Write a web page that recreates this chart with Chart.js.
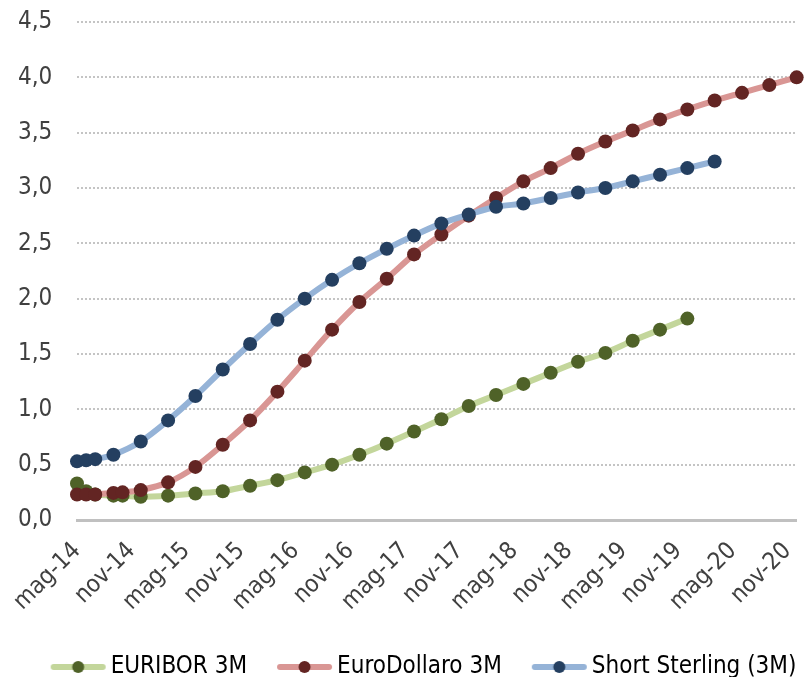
<!DOCTYPE html>
<html>
<head>
<meta charset="utf-8">
<script src="https://cdn.jsdelivr.net/npm/chart.js@4.4.1/dist/chart.umd.min.js"></script>
<style>
    html, body { margin: 0; padding: 0; background: #fff; }
    #wrap { width: 808px; height: 677px; }
</style>
</head>
<body>
<div id="wrap"><canvas id="myChart" width="808" height="677"></canvas></div>
<script>
// month offsets counted from mag-14
const months = [0, 1, 2, 4, 5, 7, 10, 13, 16, 19, 22, 25, 28, 31, 34, 37, 40, 43, 46, 49, 52, 55, 58, 61, 64, 67, 70, 73, 76, 79];

const euribor = [0.33, 0.26, 0.23, 0.22, 0.22, 0.21, 0.22, 0.24, 0.26, 0.31, 0.36, 0.43, 0.50, 0.59, 0.69, 0.80, 0.91, 1.03, 1.13, 1.23, 1.33, 1.43, 1.51, 1.62, 1.72, 1.82, null, null, null, null];
const euroDollaro = [0.23, 0.23, 0.23, 0.245, 0.25, 0.27, 0.34, 0.48, 0.68, 0.90, 1.16, 1.44, 1.72, 1.97, 2.18, 2.40, 2.58, 2.75, 2.91, 3.06, 3.18, 3.31, 3.42, 3.52, 3.62, 3.71, 3.79, 3.86, 3.93, 4.00];
const shortSterling = [0.53, 0.54, 0.55, 0.59, null, 0.71, 0.90, 1.12, 1.36, 1.59, 1.81, 2.00, 2.17, 2.32, 2.45, 2.57, 2.68, 2.76, 2.83, 2.86, 2.91, 2.96, 3.00, 3.06, 3.12, 3.18, 3.24, null, null, null];

const tickMonths = [0, 6, 12, 18, 24, 30, 36, 42, 48, 54, 60, 66, 72, 78];
const tickLabels = ['mag-14', 'nov-14', 'mag-15', 'nov-15', 'mag-16', 'nov-16', 'mag-17', 'nov-17', 'mag-18', 'nov-18', 'mag-19', 'nov-19', 'mag-20', 'nov-20'];

const seriesNames = ['EURIBOR 3M', 'EuroDollaro 3M', 'Short Sterling (3M)'];

const FONT = "'DejaVu Sans Condensed', 'DejaVu Sans', sans-serif";
const TEXT = '#404040';

function toPoints(values) {
    return values.map((v, i) => ({ x: months[i], y: v }));
}

// legend icon: thick light line with a dark dot in the middle
function makeIcon(lineColor, dotColor) {
    let c = document.createElement('canvas');
    c.width = 100;
    c.height = 20;
    let ctx = c.getContext('2d');
    ctx.strokeStyle = lineColor;
    ctx.lineWidth = 6;
    ctx.lineCap = 'round';
    ctx.beginPath();
    ctx.moveTo(41, 10);
    ctx.lineTo(90, 10);
    ctx.stroke();
    ctx.fillStyle = dotColor;
    ctx.beginPath();
    ctx.arc(65.5, 10, 6, 0, Math.PI * 2);
    ctx.fill();
    return c;
}

function makeSet(label, values, lineColor, dotColor, order) {
    return {
        label: label,
        data: toPoints(values),
        borderColor: lineColor,
        backgroundColor: dotColor,
        borderWidth: 6,
        borderCapStyle: 'round',
        borderJoinStyle: 'round',
        tension: 0.3,
        pointRadius: 7,
        pointHoverRadius: 7,
        pointBorderWidth: 0,
        pointBackgroundColor: dotColor,
        spanGaps: true,
        clip: false,
        order: order,
        icon: makeIcon(lineColor, dotColor),
    };
}

const datasets = [
    makeSet(seriesNames[0], euribor, '#c3d69b', '#4f6228', 2),
    makeSet(seriesNames[1], euroDollaro, '#d99694', '#632523', 1),
    makeSet(seriesNames[2], shortSterling, '#95b3d7', '#243f60', 0),
];

new Chart(document.getElementById('myChart'), {
    type: 'line',
    data: { datasets: datasets },
    options: {
        responsive: false,
        animation: false,
        layout: { padding: { top: 22, right: 3, bottom: -12, left: 18 } },
        plugins: {
            tooltip: { enabled: false },
            legend: {
                position: 'bottom',
                labels: {
                    usePointStyle: true,
                    pointStyleWidth: 72,
                    boxWidth: 72,
                    padding: 6,
                    color: TEXT,
                    font: { family: FONT, size: 24 },
                    generateLabels: (chart) => chart.data.datasets.map((ds, i) => ({
                        text: ds.label,
                        pointStyle: ds.icon,
                        fillStyle: ds.backgroundColor,
                        strokeStyle: ds.borderColor,
                        lineWidth: 0,
                        hidden: false,
                        datasetIndex: i,
                    })),
                },
            },
        },
        scales: {
            x: {
                type: 'linear',
                min: 0,
                max: 79,
                afterBuildTicks: (axis) => {
                    axis.ticks = tickMonths.map((m) => ({ value: m }));
                },
                afterFit: (axis) => { axis.height = 129; },
                grid: { display: false, drawTicks: true, tickLength: 17 },
                border: { display: true, color: '#c0c0c0', width: 3 },
                ticks: {
                    autoSkip: false,
                    minRotation: 45,
                    maxRotation: 45,
                    padding: 0,
                    color: TEXT,
                    font: { family: FONT, size: 24 },
                    callback: (value) => tickLabels[tickMonths.indexOf(value)],
                },
            },
            y: {
                min: 0,
                max: 4.5,
                afterFit: (axis) => { axis.width = 59; },
                grid: { color: '#c4c4c4', lineWidth: 2, drawTicks: false },
                border: { display: false, dash: [2, 2] },
                ticks: {
                    stepSize: 0.5,
                    padding: 0,
                    crossAlign: 'far',
                    color: TEXT,
                    font: { family: FONT, size: 24 },
                    callback: (value) => value.toFixed(1).replace('.', ','),
                },
            },
        },
    },
});
</script>
</body>
</html>
